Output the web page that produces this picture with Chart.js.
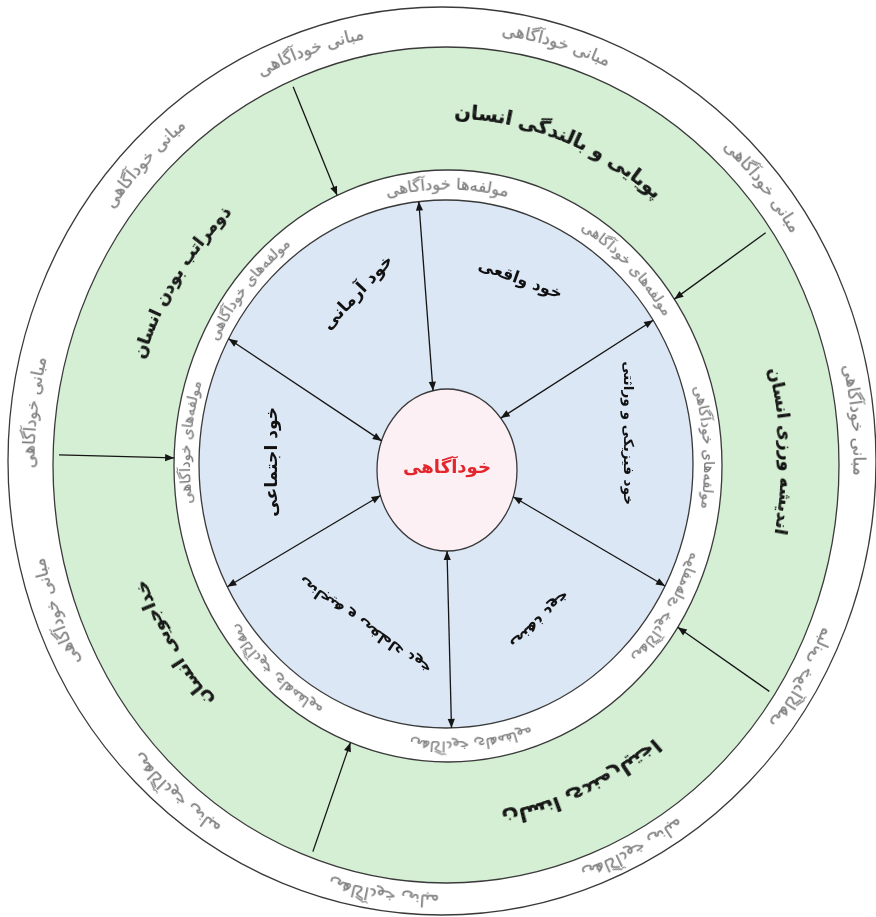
<!DOCTYPE html>
<html lang="fa">
<head>
<meta charset="utf-8">
<title>خودآگاهی</title>
<script src="https://cdn.jsdelivr.net/npm/chart.js@4.4.1/dist/chart.umd.min.js"></script>
<style>
  html, body { margin: 0; padding: 0; background: #fff; }
  canvas { display: block; }
</style>
</head>
<body>
<canvas id="chart" width="876" height="917"></canvas>
<script>
// ---- data ----
const layerNames = ['مبانی خودآگاهی', 'ابعاد انسان', 'مولفه‌های خودآگاهی', 'ابعاد خود', 'خودآگاهی'];
const layerValues = [1, 1, 1, 1, 1];
const centerLabel = 'خودآگاهی';
const foundationLabel = 'مبانی خودآگاهی';
const componentLabel = 'مولفه‌های خودآگاهی';
const topComponentLabel = 'مولفه‌ها خودآگاهی';
const foundations = ['پویایی و بالندگی انسان', 'اندیشه ورزی انسان', 'اختیارمندی انسان', 'خداجویی انسان', 'ذومراتب بودن انسان'];
const selves = ['خود آرمانی', 'خود واقعی', 'خود فیزیکی و وراثتی', 'خود اجتماعی', 'خود عاطفی و هیجانی', 'خود ذهنی'];

// ---- layout ----
// ellipses, outer to inner
const layers = [
  { cx: 442, cy: 461, a: 434, b: 454, fill: '#ffffff' },
  { cx: 446, cy: 465, a: 393, b: 418, fill: '#d5efd4' },
  { cx: 448, cy: 466, a: 274, b: 296, fill: '#ffffff' },
  { cx: 446, cy: 464, a: 247, b: 264, fill: '#dce7f5' },
  { cx: 447, cy: 470, a: 70, b: 81, fill: '#fdf0f4' }
];
const outerSpots = [
  { deg: 15 }, { deg: 342 }, { deg: 315 }, { deg: 49 }, { deg: 277 }, { deg: 84 },
  { deg: 249 }, { deg: 121, flip: true }, { deg: 219, flip: true }, { deg: 188, flip: true }, { deg: 154, flip: true }
];
const innerSpots = [
  { deg: 0, top: true }, { deg: 42.5 }, { deg: 311.5 }, { deg: 86 }, { deg: 275 },
  { deg: 123, flip: true }, { deg: 175, flip: true }, { deg: 220, flip: true }
];
const greenSpots = [
  { deg: 19.5, t: 0.46, w: 225 }, { deg: 87.5, t: 0.54, w: 168 }, { deg: 157, t: 0.5, w: 175, flip: true },
  { deg: 237, t: 0.42, w: 142 }, { deg: 304.5, t: 0.41, w: 175 }
];
const blueSpots = [
  { u: -0.356, v: -0.648, rot: -47, w: 95 }, { u: 0.30, v: -0.697, rot: 20, w: 88 },
  { u: 0.737, v: -0.117, rot: 90, w: 144 }, { u: -0.704, v: -0.008, rot: -90, w: 110 },
  { u: -0.328, v: 0.61, rot: 34.7, w: 158, flip: true }, { u: 0.38, v: 0.59, rot: -45, w: 76, flip: true }
];
const outerArrows = [338, 54, 271.5, 125, 199];
const spokes = [[354, 350], [54, 46], [118, 112], [179, 180], [242, 249], [301, 294]];

const FONT = '"DejaVu Sans", "Noto Sans", sans-serif';
const measure = document.createElement('canvas').getContext('2d');

function fitSize(text, weight, target) {
  measure.font = weight + ' 20px ' + FONT;
  return 20 * target / measure.measureText(text).width;
}

function mix(lo, hi, t) {
  return { cx: lo.cx + (hi.cx - lo.cx) * t, cy: lo.cy + (hi.cy - lo.cy) * t,
           a: lo.a + (hi.a - lo.a) * t, b: lo.b + (hi.b - lo.b) * t };
}

function ellPoint(e, th) {
  const s = Math.sin(th), c = Math.cos(th);
  const r = 1 / Math.sqrt((s / e.a) ** 2 + (c / e.b) ** 2);
  return { x: e.cx + r * s, y: e.cy - r * c };
}

function rayHit(o, deg, l, t) {
  const th = deg * Math.PI / 180, dx = Math.sin(th), dy = -Math.cos(th);
  const px = o.x - l.cx, py = o.y - l.cy, a2 = l.a * l.a, b2 = l.b * l.b;
  const A = dx * dx / a2 + dy * dy / b2;
  const B = 2 * (px * dx / a2 + py * dy / b2);
  const C = px * px / a2 + py * py / b2 - 1;
  const s = (-B + Math.sqrt(B * B - 4 * A * C)) / (2 * A) * (t || 1);
  return { x: o.x + s * dx, y: o.y + s * dy };
}

function head(ctx, tip, from) {
  const ang = Math.atan2(tip.y - from.y, tip.x - from.x), len = 9, hw = 3.6;
  ctx.beginPath();
  ctx.moveTo(tip.x, tip.y);
  ctx.lineTo(tip.x - len * Math.cos(ang) + hw * Math.sin(ang), tip.y - len * Math.sin(ang) - hw * Math.cos(ang));
  ctx.lineTo(tip.x - len * Math.cos(ang) - hw * Math.sin(ang), tip.y - len * Math.sin(ang) + hw * Math.cos(ang));
  ctx.closePath();
  ctx.fill();
}

function arrow(ctx, p, q, both) {
  ctx.beginPath();
  ctx.moveTo(p.x, p.y);
  ctx.lineTo(q.x, q.y);
  ctx.stroke();
  head(ctx, q, p);
  if (both) head(ctx, p, q);
}

// text following an ellipse, drawn slice by slice so the Persian shaping stays intact
function curvedText(ctx, text, e, deg, size, weight, color, flip) {
  const off = document.createElement('canvas');
  const oc = off.getContext('2d');
  const font = weight + ' ' + size.toFixed(2) + 'px ' + FONT;
  oc.font = font;
  const w = Math.ceil(oc.measureText(text).width) + 4;
  const h = Math.ceil(size * 2.2);
  off.width = w; off.height = h;
  oc.font = font; oc.fillStyle = color; oc.textAlign = 'center'; oc.textBaseline = 'middle'; oc.direction = 'rtl';
  oc.fillText(text, w / 2, h / 2);
  const dir = flip ? -1 : 1, th0 = deg * Math.PI / 180, eps = 1e-4;
  const speed = th => { const p1 = ellPoint(e, th - eps), p2 = ellPoint(e, th + eps); return Math.hypot(p2.x - p1.x, p2.y - p1.y) / (2 * eps); };
  const thetaAt = dist => {
    let th = th0, s = 0; const sign = dist >= 0 ? 1 : -1, target = Math.abs(dist);
    while (s < target) { const d = Math.min(0.5, target - s); th += sign * d / speed(th); s += d; }
    return th;
  };
  ctx.save();
  for (let x = 0; x < w; x++) {
    const th = thetaAt(dir * (x + 0.5 - w / 2));
    const p = ellPoint(e, th), p1 = ellPoint(e, th - eps), p2 = ellPoint(e, th + eps);
    let tx = p2.x - p1.x, ty = p2.y - p1.y; const n = Math.hypot(tx, ty); tx /= n; ty /= n;
    ctx.setTransform(dir * tx, dir * ty, -ty, tx, p.x, p.y);
    ctx.drawImage(off, x, 0, 1, h, -0.5, -h / 2, 1.4, h);
  }
  ctx.restore();
}

const ellipsePlugin = {
  id: 'ellipses',
  beforeDatasetDraw(chart, args) {
    const l = layers[args.index], el = args.meta.data[0], ctx = chart.ctx;
    el.x = l.cx; el.y = l.cy; el.innerRadius = 0; el.outerRadius = l.a;
    ctx.save();
    ctx.translate(l.cx, l.cy);
    ctx.scale(1, l.b / l.a);
    ctx.translate(-l.cx, -l.cy);
  },
  afterDatasetDraw(chart, args) {
    const el = args.meta.data[0], ctx = chart.ctx;
    ctx.beginPath();
    ctx.arc(el.x, el.y, el.outerRadius, 0, Math.PI * 2);
    ctx.restore();
    ctx.lineWidth = 1.3;
    ctx.strokeStyle = '#3a3a3a';
    ctx.stroke();
  }
};

const overlayPlugin = {
  id: 'overlay',
  afterDatasetsDraw(chart) {
    const ctx = chart.ctx;
    ctx.save();
    ctx.strokeStyle = '#151515';
    ctx.fillStyle = '#151515';
    ctx.lineWidth = 1.3;
    const o1 = { x: 446, y: 465 }, o2 = { x: 447, y: 470 };
    outerArrows.forEach(d => arrow(ctx, rayHit(o1, d, layers[1], 0.985), rayHit(o1, d, layers[2]), false));
    spokes.forEach(([d1, d2]) => arrow(ctx, rayHit(o2, d1, layers[3]), rayHit(o2, d2, layers[4]), true));
    ctx.restore();

    // ring labels
    const outerMid = mix(layers[1], layers[0], 0.5);
    const outerSize = fitSize(foundationLabel, 'normal', 112);
    outerSpots.forEach(s => curvedText(ctx, foundationLabel, outerMid, s.deg, outerSize, 'normal', '#7d7d7d', s.flip));

    const innerMid = mix(layers[3], layers[2], 0.5);
    innerSpots.forEach(s => {
      const txt = s.top ? topComponentLabel : componentLabel;
      curvedText(ctx, txt, innerMid, s.deg, fitSize(txt, 'normal', 124), 'normal', '#7d7d7d', s.flip);
    });

    greenSpots.forEach((s, i) => {
      const e = mix(layers[2], layers[1], s.t);
      curvedText(ctx, foundations[i], e, s.deg, fitSize(foundations[i], 'bold', s.w), 'bold', '#111', s.flip);
    });

    const blue = layers[3];
    ctx.save();
    ctx.fillStyle = '#111';
    ctx.textAlign = 'center';
    ctx.textBaseline = 'middle';
    ctx.direction = 'rtl';
    blueSpots.forEach((s, i) => {
      ctx.save();
      ctx.translate(blue.cx + s.u * blue.a, blue.cy + s.v * blue.b);
      ctx.rotate(s.rot * Math.PI / 180);
      if (s.flip) ctx.scale(1, -1);
      ctx.font = 'bold ' + fitSize(selves[i], 'bold', s.w).toFixed(2) + 'px ' + FONT;
      ctx.fillText(selves[i], 0, 0);
      ctx.restore();
    });
    const c = layers[4];
    ctx.fillStyle = '#e3262c';
    ctx.font = 'bold ' + fitSize(centerLabel, 'bold', 88).toFixed(2) + 'px ' + FONT;
    ctx.fillText(centerLabel, c.cx, c.cy - 2);
    ctx.restore();
  }
};

new Chart(document.getElementById('chart'), {
  type: 'pie',
  data: {
    labels: layerNames,
    datasets: layers.map((l, i) => ({
      label: layerNames[i],
      data: [layerValues[i]],
      backgroundColor: l.fill,
      borderWidth: 0,
      clip: false,
      order: layers.length - i
    }))
  },
  options: {
    responsive: false,
    animation: false,
    devicePixelRatio: 1,
    events: [],
    layout: { padding: 0 },
    plugins: { legend: { display: false }, tooltip: { enabled: false } }
  },
  plugins: [ellipsePlugin, overlayPlugin]
});
</script>
</body>
</html>
